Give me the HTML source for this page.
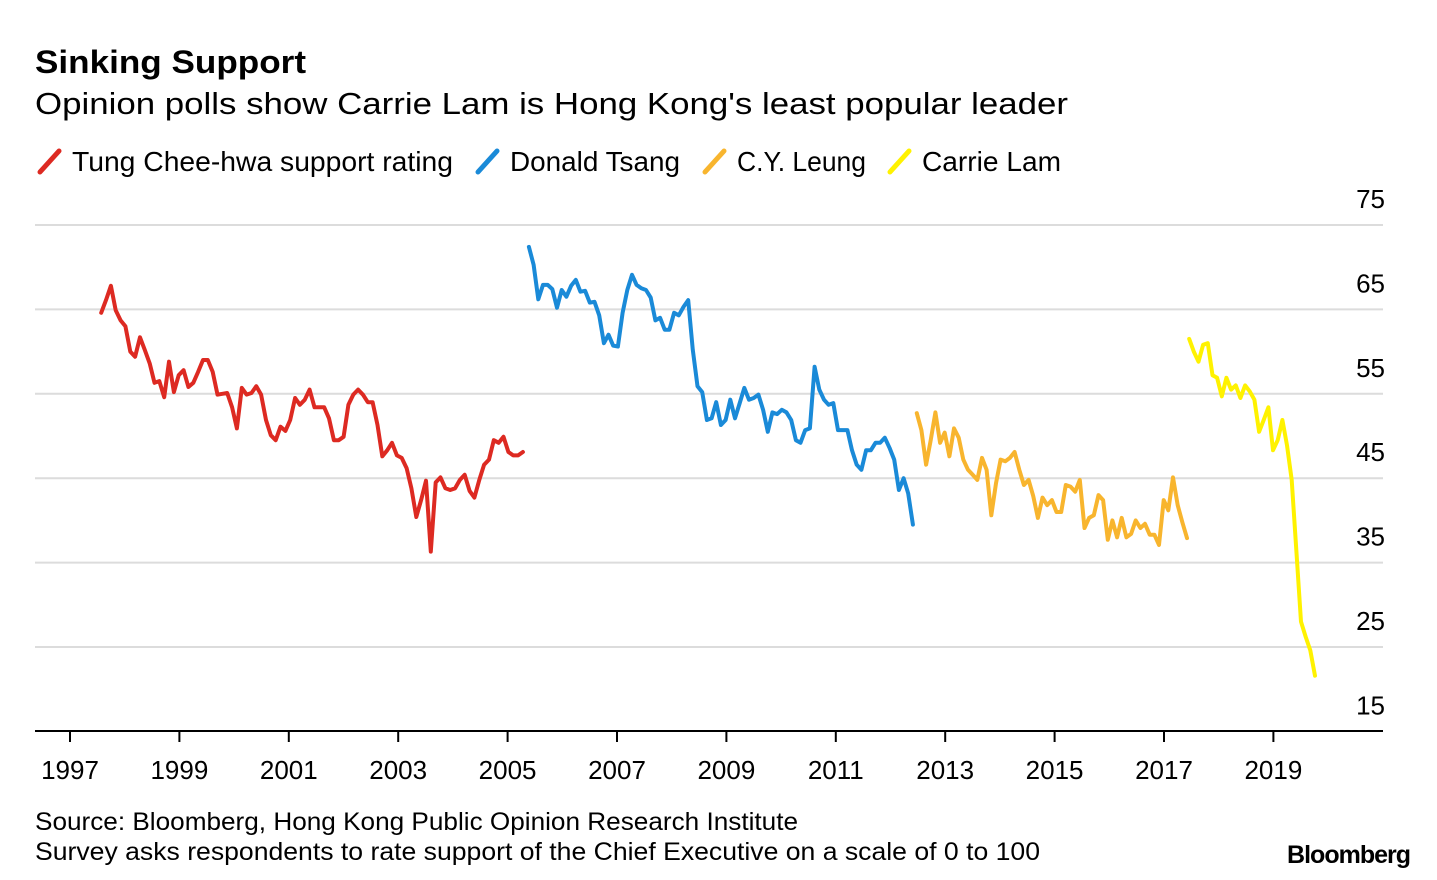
<!DOCTYPE html>
<html><head><meta charset="utf-8">
<style>
html,body{margin:0;padding:0;background:#fff;}
svg{display:block;font-family:"Liberation Sans",Arial,sans-serif;}
</style></head>
<body>
<svg id="chart" width="1437" height="880" viewBox="0 0 1437 880">
  <text x="35" y="73" font-size="32" font-weight="bold" fill="#000" textLength="271" lengthAdjust="spacingAndGlyphs">Sinking Support</text>
  <text x="35" y="114" font-size="31" fill="#000" textLength="1033" lengthAdjust="spacingAndGlyphs">Opinion polls show Carrie Lam is Hong Kong's least popular leader</text>
  <g id="legend"></g>
  <g id="grid"></g>
  <g id="yaxis"></g>
  <g id="xaxis"></g>
  <g id="series"></g>
  <text x="35" y="830" font-size="25" fill="#000" textLength="763" lengthAdjust="spacingAndGlyphs">Source: Bloomberg, Hong Kong Public Opinion Research Institute</text>
  <text x="35" y="860" font-size="25" fill="#000" textLength="1005" lengthAdjust="spacingAndGlyphs">Survey asks respondents to rate support of the Chief Executive on a scale of 0 to 100</text>
  <text x="1410" y="863" font-size="25" font-weight="bold" fill="#000" text-anchor="end" letter-spacing="-1">Bloomberg</text>
</svg>
<script>
const yTicks = [15, 25, 35, 45, 55, 65, 75];
const xTicks = [1997, 1999, 2001, 2003, 2005, 2007, 2009, 2011, 2013, 2015, 2017, 2019];
const seriesNames = ["Tung Chee-hwa support rating", "Donald Tsang", "C.Y. Leung", "Carrie Lam"];
const seriesColors = ["#dd2a22", "#1a8ad8", "#f8b52e", "#fff200"];
const seriesStarts = [1997.57, 2005.39, 2012.48, 2017.46];
const seriesEnds = [2005.28, 2012.41, 2017.42, 2019.76];
const tungValues = [64.6,66.1,67.8,64.9,63.7,63.0,60.0,59.4,61.7,60.2,58.6,56.3,56.5,54.6,58.8,55.2,57.2,57.8,55.8,56.3,57.6,59.0,59.0,57.6,54.9,55.0,55.1,53.4,50.9,55.7,54.9,55.1,55.9,54.9,51.9,50.1,49.5,51.1,50.6,51.9,54.5,53.7,54.3,55.5,53.4,53.4,53.4,52.1,49.5,49.5,49.9,53.7,54.9,55.5,54.9,54.0,54.0,51.3,47.6,48.3,49.2,47.7,47.4,46.2,43.8,40.4,42.4,44.7,36.3,44.5,45.1,43.8,43.6,43.8,44.8,45.4,43.5,42.7,44.8,46.6,47.2,49.5,49.2,49.9,48.1,47.7,47.7,48.1];
const tsangValues = [72.4,70.3,66.2,67.9,67.9,67.4,65.2,67.3,66.5,67.8,68.5,67.1,67.2,65.8,65.9,64.3,61.0,62.0,60.7,60.6,64.6,67.3,69.1,67.9,67.5,67.3,66.4,63.7,64.0,62.6,62.6,64.6,64.3,65.3,66.1,60.2,55.9,55.2,51.9,52.1,54.0,51.3,51.9,54.3,52.1,53.9,55.7,54.3,54.5,54.9,53.1,50.5,52.8,52.6,53.1,52.8,51.9,49.5,49.2,50.7,50.9,58.2,55.5,54.3,53.7,53.9,50.7,50.7,50.7,48.3,46.6,46.0,48.3,48.3,49.2,49.2,49.8,48.6,47.2,43.6,45.0,43.2,39.5];
const leungValues = [52.7,50.7,46.6,49.5,52.8,49.2,50.4,47.6,50.9,49.8,47.2,46.0,45.4,44.8,47.4,46.0,40.6,44.4,47.2,47.0,47.4,48.1,46.0,44.2,44.8,42.9,40.3,42.7,41.8,42.4,41.0,41.0,44.2,44.0,43.4,44.8,39.1,40.3,40.6,43.0,42.4,37.7,40.0,38.0,40.3,38.0,38.4,40.0,39.1,39.6,38.3,38.3,37.1,42.4,41.2,45.1,41.8,39.8,37.9];
const lamValues = [61.5,60.0,58.8,60.8,61.0,57.2,56.9,54.7,56.9,55.5,56.0,54.5,56.0,55.3,54.3,50.5,51.9,53.4,48.3,49.5,51.9,48.9,44.8,36.5,28.0,26.2,24.6,21.6];
const allSeries = [tungValues, tsangValues, leungValues, lamValues];

const NS = "http://www.w3.org/2000/svg";
const x0 = 35, x1 = 1383;
function xScale(t){ return 70 + (t - 1997) * 54.7; }
function yScale(v){ return 225 + (75 - v) * 8.44; }
function mk(tag, attrs, parent){ const e = document.createElementNS(NS, tag); for (const k in attrs) e.setAttribute(k, attrs[k]); parent.appendChild(e); return e; }

const grid = document.getElementById("grid");
const yaxis = document.getElementById("yaxis");
yTicks.forEach(v => {
  const y = yScale(v);
  if (v > 15) {
    const l = mk("line", {x1:x0, x2:x1, y1:y, y2:y, stroke:"#dcdcdc", "stroke-width":2}, grid);
    
    
  }
  const t = mk("text", {x:1385, y:y - 17, "font-size":26, "text-anchor":"end", fill:"#000"}, yaxis);
  t.textContent = v;
  
  
});
const xaxis = document.getElementById("xaxis");
const base = mk("line", {x1:x0, x2:x1, y1:731, y2:731, stroke:"#000", "stroke-width":2}, xaxis);


xTicks.forEach(yr => {
  const x = xScale(yr);
  const tk = mk("line", {x1:x, x2:x, y1:731, y2:742, stroke:"#000", "stroke-width":2}, xaxis);
  
  
  const t = mk("text", {x:x, y:779, "font-size":26, "text-anchor":"middle", fill:"#000"}, xaxis);
  t.textContent = yr;
  
  
});

const sg = document.getElementById("series");
allSeries.forEach((vals, i) => {
  const step = (seriesEnds[i] - seriesStarts[i]) / (vals.length - 1);
  const pts = vals.map((v, j) => xScale(seriesStarts[i] + j * step).toFixed(1) + "," + yScale(v).toFixed(1)).join(" ");
  const p = mk("polyline", {points:pts, fill:"none", stroke:seriesColors[i], "stroke-width":4, "stroke-linejoin":"round", "stroke-linecap":"round"}, sg);
  
  
});

const lg = document.getElementById("legend");
const legendX = [37, 475, 702, 887];
const legendW = [381, 170, 129, 139];
seriesNames.forEach((n, i) => {
  const x = legendX[i];
  const l = mk("line", {x1:x + 3, y1:172, x2:x + 22, y2:151, stroke:seriesColors[i], "stroke-width":5, "stroke-linecap":"round"}, lg);
  
  
  const t = mk("text", {x:x + 35, y:171, "font-size":28, fill:"#000", textLength:legendW[i], lengthAdjust:"spacingAndGlyphs"}, lg);
  t.textContent = n;
  
  
});
</script>
</body></html>
